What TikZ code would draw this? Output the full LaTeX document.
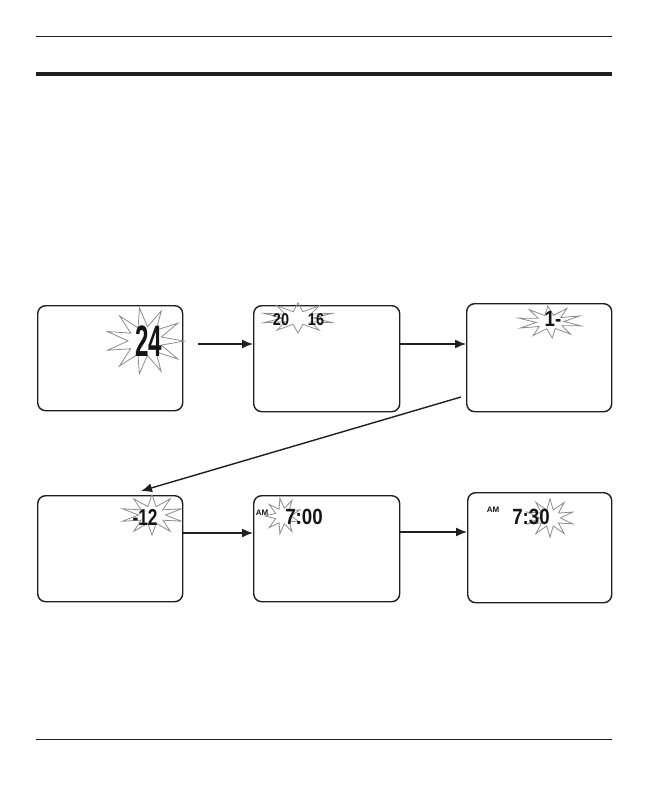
\documentclass[tikz,border=0pt]{standalone}
\usepackage{fontspec}
\setmainfont{Liberation Sans}
\usetikzlibrary{shapes.geometric,arrows.meta}
\begin{document}
\begin{tikzpicture}[x=1pt,y=-1pt,
  lcd/.style={rounded corners=8pt, draw=black!88, line width=1.4pt, anchor=north west, inner sep=0pt},
  burst/.style={star, draw=black!45, line width=0.8pt, inner sep=0pt, star point ratio=2.3},
  seg/.style={inner sep=0pt, anchor=center, text=black!92},
  flow/.style={draw=black!88, line width=1.4pt, -{Latex[length=11pt,width=9pt]}},
  rule/.style={draw=black!88}]
\useasboundingbox (0,0) rectangle (648,792);
% page rules
\draw[rule, line width=1pt] (36,36.5) -- (612,36.5);
\draw[rule, line width=4pt] (36,74) -- (612,74);
\draw[rule, line width=1.3pt] (36,739.5) -- (612,739.5);
% display boxes
\node[lcd, minimum width=145pt, minimum height=105pt] (b1) at (37,305) {};
\node[lcd, minimum width=146pt, minimum height=106pt] (b2) at (253,305) {};
\node[lcd, minimum width=145pt, minimum height=108pt] (b3) at (466,303) {};
\node[lcd, minimum width=145pt, minimum height=106pt] (b4) at (37,495) {};
\node[lcd, minimum width=146pt, minimum height=106pt] (b5) at (253,495) {};
\node[lcd, minimum width=144pt, minimum height=110pt] (b6) at (467,492) {};
% starbursts
\node[burst, star points=11, minimum size=78pt, yscale=0.85, rotate=8] (s1) at (145,341) {};
\node[burst, star points=10, minimum size=72pt, yscale=0.42] (s2) at (298,318) {};
\node[burst, star points=10, minimum size=64pt, yscale=0.5, rotate=4] (s3) at (550,322) {};
\node[burst, star points=10, minimum size=62pt, yscale=0.65] (s4) at (152,515) {};
\node[burst, star points=9, minimum size=36pt, rotate=10] (s5) at (283,516) {};
\node[burst, star points=10, minimum size=48pt, yscale=0.8] (s6) at (550,518) {};
% LCD digits
\node[seg, font=\fontsize{44}{44}\selectfont\bfseries, xscale=0.55] (t1) at (149,341) {24};
\node[seg, font=\fontsize{17}{17}\selectfont\bfseries, xscale=0.85] (t2a) at (281,320) {20};
\node[seg, font=\fontsize{17}{17}\selectfont\bfseries, xscale=0.85] (t2b) at (316,320) {16};
\node[seg, font=\fontsize{22}{22}\selectfont\bfseries, xscale=0.85] (t3) at (553,319) {1-};
\node[seg, font=\fontsize{23}{23}\selectfont\bfseries, xscale=0.75] (t4) at (145,517) {-12};
\node[seg, font=\fontsize{8}{8}\selectfont\bfseries] (am5) at (262,513) {AM};
\node[seg, font=\fontsize{22}{22}\selectfont\bfseries, xscale=0.85] (t5) at (304,517) {7:00};
\node[seg, font=\fontsize{8}{8}\selectfont\bfseries] (am6) at (493,510) {AM};
\node[seg, font=\fontsize{22}{22}\selectfont\bfseries, xscale=0.85] (t6) at (531,517) {7:30};
% connectors
\coordinate (a1) at (198,344);
\draw[flow] (a1) -- (a1 -| b2.west);
\draw[flow] (b2.east |- a1) -- (b3.west |- a1);
\coordinate (d1) at (461,397);
\coordinate (d2) at (141,491);
\draw[flow] (d1) -- (d2);
\coordinate (a2) at (183,533);
\draw[flow] (b4.east |- a2) -- (b5.west |- a2);
\coordinate (a3) at (400,532);
\draw[flow] (b5.east |- a3) -- (b6.west |- a3);
\end{tikzpicture}
\end{document}
